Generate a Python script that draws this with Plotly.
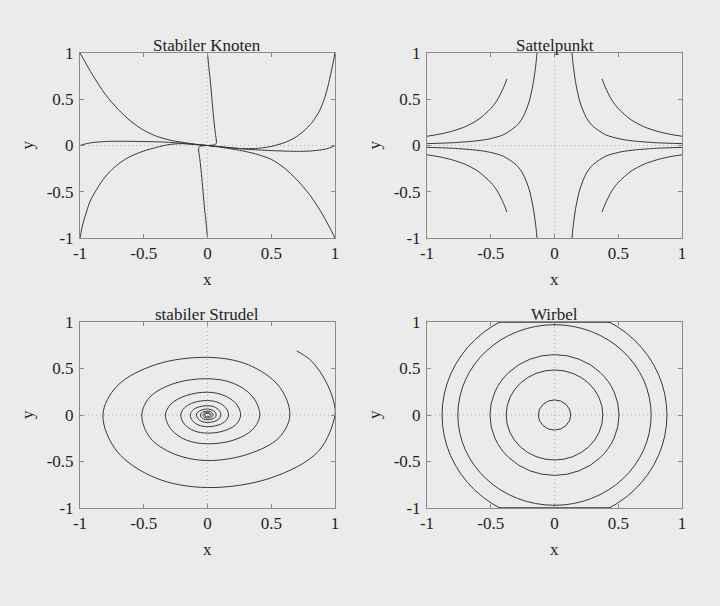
import plotly.graph_objects as go

# ---------------- data ----------------
titles = ["Stabiler Knoten", "Sattelpunkt", "stabiler Strudel", "Wirbel"]
x_label = "x"
y_label = "y"
tick_vals = [-1, -0.5, 0, 0.5, 1]
tick_text = ["-1", "-0.5", "0", "0.5", "1"]

# Stabiler Knoten: trajectories
knoten_a_x = [-1, -0.9, -0.8, -0.7, -0.6, -0.5, -0.4, -0.3, -0.2, -0.1, 0]
knoten_a_y = [1, 0.76, 0.55, 0.39, 0.26, 0.165, 0.1, 0.06, 0.035, 0.015, 0]
knoten_b_x = [1, 0.9, 0.8, 0.7, 0.6, 0.5, 0.4, 0.3, 0.2, 0.1, 0]
knoten_b_y = [-1, -0.74, -0.53, -0.37, -0.24, -0.15, -0.1, -0.065, -0.04, -0.018, 0]
knoten_c_x = [-1, -0.95, -0.9, -0.8, -0.7, -0.6, -0.5, -0.4, -0.3, -0.2, -0.1, 0]
knoten_c_y = [0, 0.02, 0.032, 0.043, 0.046, 0.045, 0.043, 0.04, 0.034, 0.024, 0.012, 0]
knoten_d_x = [1, 0.95, 0.9, 0.8, 0.7, 0.6, 0.5, 0.4, 0.3, 0.2, 0.1, 0]
knoten_d_y = [0, -0.03, -0.045, -0.06, -0.063, -0.06, -0.055, -0.048, -0.04, -0.027, -0.013, 0]
knoten_e_x = [-1, -0.98, -0.95, -0.92, -0.88, -0.82, -0.75, -0.68, -0.6, -0.5, -0.4, -0.3, -0.2, -0.1, 0]
knoten_e_y = [-1, -0.86, -0.72, -0.6, -0.5, -0.37, -0.26, -0.18, -0.115, -0.06, -0.02, 0.01, 0.02, 0.01, 0]
knoten_f_x = [1, 0.98, 0.95, 0.92, 0.88, 0.82, 0.75, 0.68, 0.6, 0.5, 0.4, 0.3, 0.2, 0.1, 0]
knoten_f_y = [1, 0.86, 0.67, 0.52, 0.38, 0.25, 0.15, 0.08, 0.03, -0.01, -0.03, -0.035, -0.027, -0.013, 0]
knoten_g_x = [0, 0.01, 0.022, 0.035, 0.048, 0.06, 0.068, 0.07, 0.06, 0.03, 0]
knoten_g_y = [1, 0.85, 0.7, 0.5, 0.3, 0.15, 0.07, 0.03, 0.01, 0.003, 0]
knoten_h_x = [0, -0.01, -0.022, -0.035, -0.048, -0.06, -0.068, -0.07, -0.06, -0.03, 0]
knoten_h_y = [-1, -0.85, -0.7, -0.5, -0.3, -0.15, -0.07, -0.03, -0.01, -0.003, 0]
knoten_curves = [
    (knoten_a_x, knoten_a_y), (knoten_b_x, knoten_b_y),
    (knoten_c_x, knoten_c_y), (knoten_d_x, knoten_d_y),
    (knoten_e_x, knoten_e_y), (knoten_f_x, knoten_f_y),
    (knoten_g_x, knoten_g_y), (knoten_h_x, knoten_h_y),
]

# Sattelpunkt: hyperbola branches (upper-left quadrant read; others mirrored)
sattel_outer_x = [-1, -0.9, -0.8, -0.7, -0.6, -0.5, -0.45, -0.4, -0.373]
sattel_outer_y = [0.1, 0.123, 0.156, 0.204, 0.278, 0.4, 0.49, 0.625, 0.72]
sattel_inner_x = [-1, -0.8, -0.6, -0.5, -0.4, -0.3, -0.25, -0.2, -0.17, -0.15, -0.137]
sattel_inner_y = [0.02, 0.03, 0.052, 0.075, 0.117, 0.21, 0.3, 0.47, 0.65, 0.83, 1.0]
sattel_signs = [(1, 1), (-1, 1), (1, -1), (-1, -1)]

# stabiler Strudel: spiral (clockwise, inward)
spiral_x = [0.70, 0.80, 0.88, 0.95, 0.99, 1.0,
            0.87, 0.5, 0.0,
            -0.41, -0.71, -0.82,
            -0.71, -0.41, 0.0,
            0.32, 0.56, 0.646,
            0.56, 0.32, 0.0,
            -0.26, -0.45, -0.515,
            -0.45, -0.26, 0.0,
            0.205, 0.355, 0.41,
            0.355, 0.205, 0.0,
            -0.165, -0.285, -0.33,
            -0.285, -0.165, 0.0,
            0.13, 0.225, 0.26,
            0.225, 0.13, 0.0,
            -0.105, -0.18, -0.21,
            -0.18, -0.105, 0.0,
            0.083, 0.143, 0.165,
            0.143, 0.083, 0.0,
            -0.068, -0.117, -0.135,
            -0.117, -0.068, 0.0,
            0.053, 0.091, 0.105,
            0.091, 0.053, 0.0,
            -0.044, -0.075, -0.087,
            -0.075, -0.044, 0.0,
            0.034, 0.059, 0.068,
            0.059, 0.034, 0.0,
            -0.028, -0.049, -0.056,
            -0.049, -0.028, 0.0,
            0.022, 0.038, 0.044,
            0.038, 0.022, 0.0,
            -0.018, -0.031, -0.036,
            -0.031, -0.018, 0.0,
            0.014, 0.024, 0.028,
            0.024, 0.014, 0.0,
            -0.012, -0.02, -0.023,
            -0.02, -0.012, 0.0,
            0.009, 0.016, 0.018]
spiral_y = [0.69, 0.60, 0.47, 0.30, 0.14, 0.0,
            -0.39, -0.675, -0.78,
            -0.675, -0.39, 0.0,
            0.31, 0.54, 0.62,
            0.54, 0.31, 0.0,
            -0.245, -0.42, -0.49,
            -0.42, -0.245, 0.0,
            0.195, 0.34, 0.39,
            0.34, 0.195, 0.0,
            -0.155, -0.27, -0.31,
            -0.27, -0.155, 0.0,
            0.12, 0.21, 0.245,
            0.21, 0.12, 0.0,
            -0.1, -0.17, -0.195,
            -0.17, -0.1, 0.0,
            0.078, 0.135, 0.155,
            0.135, 0.078, 0.0,
            -0.063, -0.109, -0.125,
            -0.109, -0.063, 0.0,
            0.05, 0.087, 0.1,
            0.087, 0.05, 0.0,
            -0.04, -0.07, -0.08,
            -0.07, -0.04, 0.0,
            0.032, 0.055, 0.064,
            0.055, 0.032, 0.0,
            -0.026, -0.044, -0.051,
            -0.044, -0.026, 0.0,
            0.02, 0.036, 0.041,
            0.036, 0.02, 0.0,
            -0.017, -0.029, -0.033,
            -0.029, -0.017, 0.0,
            0.013, 0.023, 0.026,
            0.023, 0.013, 0.0,
            -0.01, -0.018, -0.021,
            -0.018, -0.01, 0.0,
            0.008, 0.015, 0.017,
            0.015, 0.008, 0.0]

# Wirbel: closed orbits, half-widths (x) and half-heights (y)
wirbel_rx = [0.127, 0.379, 0.506, 0.758, 0.882]
wirbel_ry = [0.162, 0.484, 0.649, 0.971, 1.145]
# outermost orbit clamped along the top / bottom frame
wirbel_edge_x = [-0.44, 0.44]
wirbel_edge_top = [1, 1]
wirbel_edge_bottom = [-1, -1]

# ---------------- style ----------------
BG = "#ebebeb"
CURVE = "#383838"
AXIS = "#8a8a8a"
ZERO = "#b4b4b4"
TEXT = "#1e1e1e"
FONT = "Liberation Serif"
FS = 17

fig = go.Figure()

def add_line(x, y, ax, smoothing=0.8, width=1):
    fig.add_trace(go.Scatter(x=x, y=y, mode="lines",
                             line=dict(color=CURVE, width=width, shape="spline", smoothing=smoothing),
                             xaxis="x" + ax, yaxis="y" + ax, cliponaxis=False,
                             hoverinfo="skip", showlegend=False))

for cx, cy in knoten_curves:
    add_line(cx, cy, "")

for sx, sy in sattel_signs:
    add_line([-sx * v for v in sattel_outer_x], [sy * v for v in sattel_outer_y], "2")
    add_line([-sx * v for v in sattel_inner_x], [sy * v for v in sattel_inner_y], "2")

add_line(spiral_x, spiral_y, "3", smoothing=1.0)

add_line(wirbel_edge_x, wirbel_edge_top, "4", width=1.5)
add_line(wirbel_edge_x, wirbel_edge_bottom, "4", width=1.5)

# Wirbel orbits as ellipse shapes in data coordinates
shapes = []
for rx, ry in zip(wirbel_rx, wirbel_ry):
    shapes.append(dict(type="circle", xref="x4", yref="y4",
                       x0=-rx, x1=rx, y0=-ry, y1=ry,
                       line=dict(color=CURVE, width=1)))

# dotted zero lines
suffixes = ["", "2", "3", "4"]
for s in suffixes:
    xa = "x" + s
    ya = "y" + s
    shapes.append(dict(type="line", xref=xa + " domain", yref=ya, x0=0, x1=1, y0=0, y1=0,
                       line=dict(color=ZERO, width=1, dash="1px,3px"), layer="below"))
    shapes.append(dict(type="line", xref=xa, yref=ya + " domain", x0=0, x1=0, y0=0, y1=1,
                       line=dict(color=ZERO, width=1, dash="1px,3px"), layer="below"))

W, H = 720, 606
col_px = [(80, 335), (427, 682)]
row_px = [(53, 238), (322, 508)]

def axis_common():
    return dict(range=[-1, 1], tickvals=tick_vals, ticktext=tick_text,
                ticks="inside", ticklen=4, tickcolor=AXIS, tickwidth=1,
                showline=True, linecolor=AXIS, linewidth=1, mirror="ticks",
                showgrid=False, zeroline=False, automargin=False,
                tickfont=dict(family=FONT, size=FS, color=TEXT))

layout = dict(width=W, height=H, margin=dict(l=0, r=0, t=0, b=0, autoexpand=False),
              paper_bgcolor=BG, plot_bgcolor=BG, showlegend=False,
              font=dict(family=FONT, size=FS, color=TEXT))

annotations = []
for i, s in enumerate(suffixes):
    r, c = divmod(i, 2)
    x0, x1 = col_px[c]
    y0, y1 = row_px[r]
    xd = [x0 / W, x1 / W]
    yd = [1 - y1 / H, 1 - y0 / H]
    xa = axis_common()
    xa.update(domain=xd, anchor="y" + s, ticklabelstandoff=0)
    ya = axis_common()
    ya.update(domain=yd, anchor="x" + s, ticklabelstandoff=2)
    layout["xaxis" + s] = xa
    layout["yaxis" + s] = ya
    font = dict(family=FONT, size=FS, color=TEXT)
    annotations.append(dict(text=titles[i], xref="paper", yref="paper",
                            x=(xd[0] + xd[1]) / 2, y=yd[1], xanchor="center", yanchor="bottom",
                            yshift=-4, showarrow=False, font=font))
    # axis titles
    annotations.append(dict(text=x_label, xref="paper", yref="paper",
                            x=(xd[0] + xd[1]) / 2, y=yd[0], xanchor="center", yanchor="middle",
                            yshift=-41, showarrow=False, font=font))
    annotations.append(dict(text=y_label, xref="paper", yref="paper", textangle=-90,
                            x=xd[0], y=(yd[0] + yd[1]) / 2, xanchor="center", yanchor="middle",
                            xshift=-53, showarrow=False, font=font))

layout["annotations"] = annotations
layout["shapes"] = shapes
fig.update_layout(**layout)

fig.write_html("out.html")
